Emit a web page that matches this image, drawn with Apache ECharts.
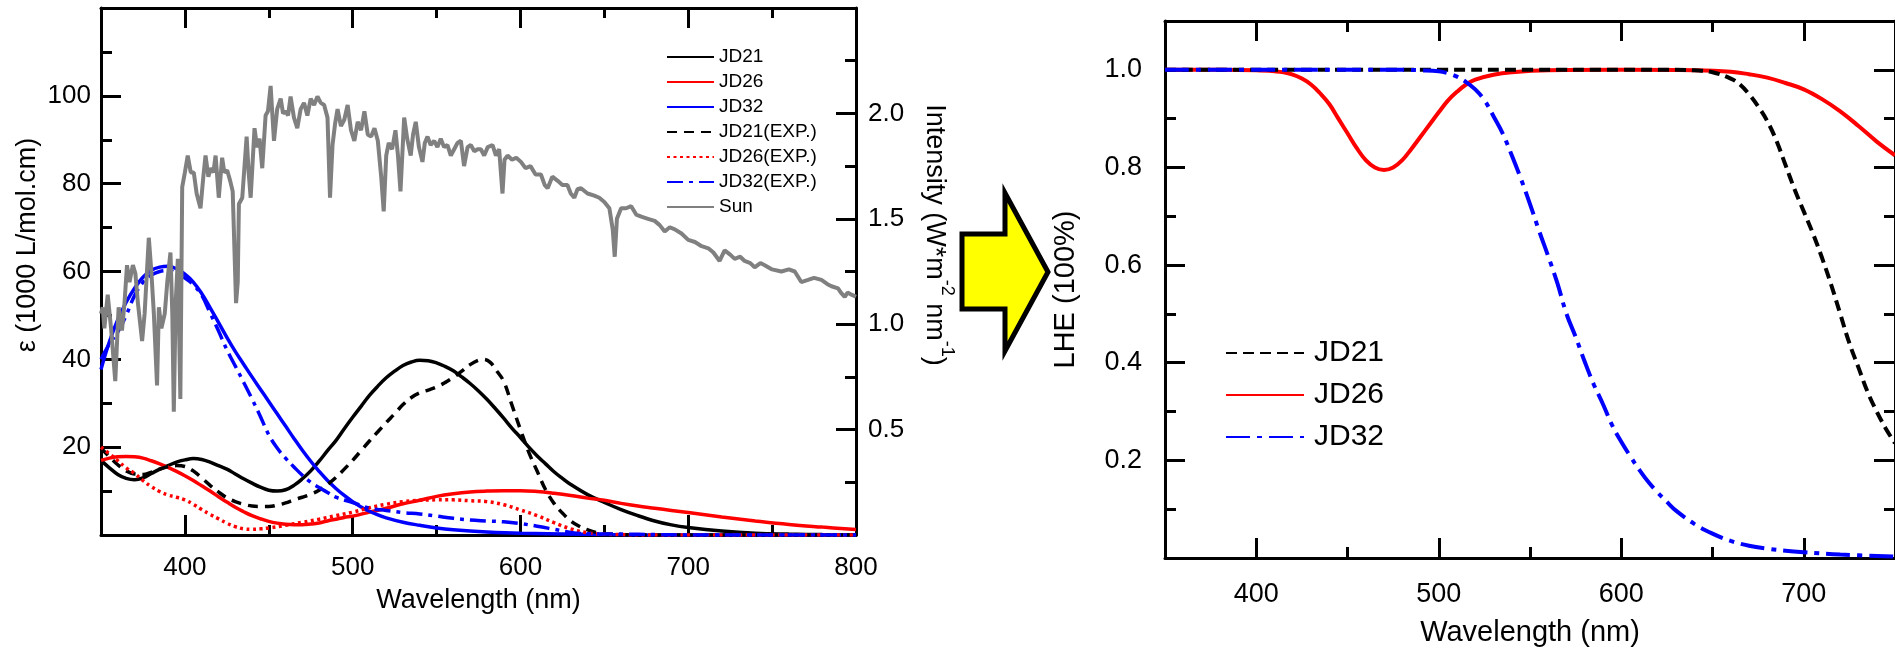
<!DOCTYPE html>
<html><head><meta charset="utf-8">
<script src="https://cdn.jsdelivr.net/npm/echarts@6/dist/echarts.min.js"></script>
<style>html,body{margin:0;padding:0;background:#fff}#c{width:1895px;height:652px}</style>
</head><body><div id="c"></div>
<script>
const FONT = '"Liberation Sans", Arial, sans-serif';

// ---------- tick values ----------
const leftXMajor = [400, 500, 600, 700, 800];
const leftXMinor = [450, 550, 650, 750];
const leftYMajor = [20, 40, 60, 80, 100];
const leftYMinor = [10, 30, 50, 70, 90, 110];
const intMajor = [0.5, 1.0, 1.5, 2.0];
const intMinor = [0.25, 0.75, 1.25, 1.75, 2.25];
const rightXMajor = [400, 500, 600, 700];
const rightXMinor = [450, 550, 650];
const lheMajor = [0.2, 0.4, 0.6, 0.8, 1.0];
const lheMinor = [0.1, 0.3, 0.5, 0.7, 0.9];

// ---------- left chart: absorption (1000 L/mol.cm) ----------
const jd21Wl = [350,355,360,365,370,375,380,385,390,395,400,405,410,415,420,425,430,435,440,445,450,455,460,465,470,475,480,485,490,495,500,505,510,515,520,525,530,535,540,545,550,555,560,565,570,575,580,585,590,595,600,605,610,615,620,625,630,640,650,660,670,680,690,700,720,740,760,780,800];
const jd21Eps = [17.0,15.3,13.8,12.9,12.6,13.0,14.0,15.0,15.8,16.6,17.1,17.4,17.2,16.6,15.8,15.0,13.9,12.8,11.8,10.9,10.2,10.0,10.3,11.3,12.8,14.6,16.8,19.2,21.5,24.2,26.8,29.3,31.8,33.9,35.8,37.3,38.6,39.4,39.8,39.7,39.2,38.4,37.4,36.0,34.5,32.8,30.9,28.8,26.6,24.3,22.2,20.0,18.0,16.2,14.4,12.9,11.5,9.2,7.4,5.8,4.4,3.2,2.3,1.7,0.9,0.4,0.2,0.1,0.05];

const jd26Wl = [350,355,360,365,370,375,380,385,390,395,400,405,410,415,420,425,430,435,440,445,450,455,460,465,470,475,480,485,490,495,500,510,520,530,540,550,560,570,580,590,600,610,620,630,640,650,660,670,680,690,700,720,740,760,780,800];
const jd26Eps = [17.0,17.5,17.8,17.9,17.8,17.5,16.9,16.2,15.4,14.5,13.5,12.4,11.2,10.0,8.7,7.5,6.3,5.3,4.4,3.7,3.1,2.7,2.45,2.35,2.35,2.5,2.75,3.2,3.6,4.0,4.3,5.2,6.1,7.1,7.9,8.8,9.4,9.8,10.0,10.1,10.1,9.9,9.5,9.0,8.4,7.9,7.2,6.6,6.1,5.6,5.1,4.1,3.2,2.4,1.8,1.25];

const jd32Wl = [350,355,360,365,370,375,380,385,390,395,400,405,410,415,420,425,430,435,440,445,450,455,460,465,470,475,480,485,490,495,500,505,510,515,520,530,540,550,560,580,600,650,700,800];
const jd32Eps = [37.7,44.0,49.0,53.0,56.2,58.7,60.3,61.0,61.2,60.6,59.4,57.6,55.0,51.8,48.4,45.0,41.8,38.9,36.0,33.2,30.4,27.6,24.8,22.0,19.3,16.8,14.5,12.4,10.6,9.0,7.6,6.4,5.4,4.6,3.9,2.9,2.2,1.6,1.2,0.7,0.4,0.1,0,0];

const jd21ExpWl = [350,355,360,365,370,375,380,385,390,395,400,405,410,415,420,425,430,435,440,445,450,455,460,465,470,475,480,485,490,495,500,505,510,515,520,525,530,535,540,545,550,555,560,565,570,575,578,582,586,590,595,600,605,610,615,620,625,630,635,640,645,650,660,680,800];
const jd21ExpEps = [19.8,17.8,16.0,14.6,13.9,13.8,14.3,15.0,15.6,15.8,15.6,14.6,13.0,11.3,9.8,8.5,7.6,7.0,6.6,6.5,6.5,6.8,7.3,8.0,8.6,9.3,10.2,11.5,13.1,15.0,17.0,19.2,21.4,23.5,25.6,27.6,29.7,31.3,32.4,33.0,33.7,34.7,35.9,37.3,38.8,39.8,40.0,39.3,37.3,35.0,29.5,24.0,18.8,14.5,10.3,7.2,5.0,3.2,2.0,1.2,0.6,0.3,0.1,0,0];

const jd26ExpWl = [350,355,360,365,370,375,380,385,390,395,400,405,410,415,420,425,430,435,440,445,450,460,470,480,490,500,510,520,530,540,550,560,570,580,590,600,610,620,630,640,650,660,680,800];
const jd26ExpEps = [20.0,18.5,16.9,15.3,14.0,12.4,11.0,9.9,9.1,8.6,8.0,7.0,5.8,4.7,3.7,2.7,1.9,1.4,1.3,1.4,1.6,2.2,2.9,3.6,4.4,5.2,6.2,7.0,7.6,7.9,8.0,8.0,7.8,7.6,6.9,5.7,4.4,2.8,1.4,0.5,0.2,0.1,0,0];

const jd32ExpWl = [350,355,360,365,370,375,380,385,390,395,400,405,410,415,420,425,430,435,440,445,450,455,460,465,470,475,480,485,490,500,510,520,530,540,550,560,570,580,590,600,610,620,630,640,660,680,700,800];
const jd32ExpEps = [40.0,43.5,46.2,50.0,54.5,57.5,59.2,60.0,60.2,59.6,58.5,57.0,54.6,50.6,46.5,42.2,38.5,34.8,31.0,27.0,22.8,19.8,17.5,15.5,13.6,12.0,10.8,9.7,8.6,7.4,6.1,5.6,5.1,4.8,4.3,3.8,3.4,3.2,3.0,2.6,2.0,1.3,0.6,0.3,0.2,0.1,0,0];

// ---------- Sun spectrum (W m^-2 nm^-1) ----------
const sunWl = [
 350,351,352,354,356,358.5,360.5,362.5,364,365.5,
 367,369,370.5,372,374.5,376,378.5,380,381.5,383.4,
 384.5,386,388,389.5,391.4,392.5,393.4,394.5,395.8,397.3,
 398.4,400,401.7,403.5,405.3,407,409.3,411,412.3,414,
 415.3,417,418.3,420.2,422.2,423.5,425.2,427,428.5,430.5,
 431.5,432.2,434.2,436.8,438,439.2,441.5,443,444.5,446.1,
 448.1,449.5,451.1,453.1,455,457.1,458.5,460,461.5,463,
 465,467,469,471,473,475,477,479,481,483,
 485,486.5,488,489.5,491,493,495,497,499,501,
 503,505,507,509,511,513,515,517,518.5,520,
 521.5,523.5,525.5,527,528.5,530.7,532.5,534.6,536,537.6,
 539.5,541.6,543,544.6,546.5,548.6,550.5,552.5,554.5,556.5,
 558.5,560.5,562.5,564.5,566.4,568.5,570.4,572.5,574.4,576.4,
 578.4,580.5,583.4,585.4,587.3,589.3,590.5,592.3,595,597.5,
 600.3,603,606,609,612.2,614.5,616.2,619,622.2,625,
 628,630,632.1,634,636.1,640,644,647,650,653,
 655,656.2,657.5,660,663,666,669,672,676,680,
 683,686,689,692,696,700,704,708,712,715,
 718.7,721.7,725,727.7,731,733.6,737,739.6,743,745.6,
 750,755.5,760,763.5,767.4,771.4,775,779.4,783,785.4,
 789.3,791,793.3,795,797.3,800];
const sunI = [
 1.05,1.08,0.98,1.14,0.98,0.73,1.08,0.97,1.10,1.28,
 1.20,1.28,1.24,1.10,0.92,1.05,1.41,1.25,1.05,0.71,
 1.08,0.98,1.05,1.20,1.34,1.05,0.585,1.10,1.31,0.645,
 1.65,1.72,1.80,1.72,1.72,1.62,1.55,1.70,1.80,1.70,
 1.74,1.72,1.80,1.60,1.79,1.72,1.73,1.68,1.63,1.10,
 1.20,1.57,1.60,1.89,1.72,1.60,1.93,1.84,1.88,1.74,
 1.99,2.01,2.13,1.87,2.02,2.07,2.00,2.01,1.99,2.08,
 1.98,1.93,2.02,2.05,1.99,2.07,2.04,2.08,2.05,2.04,
 1.98,1.60,1.85,1.95,2.02,1.94,1.97,2.04,1.92,1.87,
 1.96,1.92,2.01,1.90,1.89,1.93,1.87,1.70,1.535,1.80,
 1.86,1.83,1.92,1.80,1.63,1.98,1.88,1.80,1.90,1.96,
 1.84,1.77,1.86,1.89,1.85,1.87,1.84,1.88,1.84,1.85,
 1.80,1.83,1.86,1.87,1.75,1.84,1.85,1.82,1.83,1.83,
 1.80,1.84,1.85,1.80,1.83,1.62,1.78,1.80,1.78,1.79,
 1.77,1.74,1.75,1.71,1.71,1.66,1.645,1.70,1.68,1.66,
 1.66,1.62,1.60,1.64,1.645,1.62,1.61,1.60,1.58,1.55,
 1.45,1.32,1.50,1.55,1.55,1.56,1.52,1.51,1.50,1.49,
 1.47,1.44,1.46,1.45,1.43,1.40,1.39,1.37,1.36,1.34,
 1.30,1.35,1.33,1.31,1.32,1.30,1.29,1.27,1.29,1.28,
 1.26,1.25,1.26,1.25,1.20,1.21,1.22,1.21,1.19,1.18,
 1.17,1.15,1.13,1.15,1.14,1.13];

// ---------- right chart: LHE ----------
const lheWl21 = [350,400,450,500,550,600,630,640,650,660,665,670,675,680,685,690,695,700,705,710,715,720,725,730,735,740,745,750];
const lhe21 = [1,1,1,1,1,1,1,0.999,0.995,0.982,0.97,0.95,0.925,0.895,0.855,0.805,0.755,0.71,0.665,0.615,0.56,0.5,0.44,0.39,0.34,0.30,0.265,0.235];
const lheWl26 = [350,380,400,410,415,420,425,430,435,440,445,450,455,460,465,470,475,480,485,490,495,500,505,510,515,520,530,540,560,600,640,660,670,680,690,700,710,720,730,740,750];
const lhe26 = [1,1,0.999,0.997,0.995,0.99,0.982,0.97,0.952,0.93,0.9,0.87,0.84,0.815,0.8,0.795,0.8,0.815,0.838,0.863,0.888,0.913,0.937,0.955,0.97,0.98,0.99,0.995,0.999,1.0,0.999,0.996,0.991,0.984,0.973,0.96,0.94,0.915,0.885,0.853,0.825];
const lheWl32 = [350,400,450,480,490,500,505,510,515,520,525,530,535,540,545,550,555,560,565,570,575,580,585,590,595,600,605,610,615,620,625,630,640,650,660,670,680,690,700,720,750];
const lhe32 = [1,1,1,1,0.999,0.997,0.993,0.986,0.975,0.96,0.938,0.905,0.87,0.825,0.777,0.725,0.67,0.618,0.563,0.5,0.453,0.402,0.355,0.315,0.272,0.238,0.208,0.18,0.155,0.134,0.115,0.097,0.07,0.05,0.035,0.025,0.019,0.015,0.012,0.007,0.003];

// ---------- helpers ----------
const AX = {color: '#000', width: 3};
function mkAxis(o) {
  return {
    type: 'value', gridIndex: o.grid, position: o.pos, min: o.min, max: o.max,
    axisLine: {show: !!o.line, onZero: false, lineStyle: AX},
    axisTick: {show: true, inside: true, length: o.len, lineStyle: AX, customValues: o.ticks},
    axisLabel: o.labels ? {show: true, customValues: o.ticks, fontSize: o.fs, fontFamily: FONT, color: '#000', margin: o.margin, formatter: o.fmt} : {show: false},
    splitLine: {show: false}, minorTick: {show: false}, minorSplitLine: {show: false},
    name: o.name || '', nameLocation: 'middle', nameGap: o.nameGap || 0,
    nameTextStyle: {fontSize: o.nfs || 12, fontFamily: FONT, color: '#000'},
    silent: true
  };
}
const f1 = v => Number(v).toFixed(1);
function pairs(xs, ys) { return xs.map((x, i) => [x, ys[i]]); }
function line(name, xs, ys, color, width, type, xi, yi, smooth) {
  return {
    type: 'line', name: name, data: pairs(xs, ys), xAxisIndex: xi, yAxisIndex: yi,
    symbol: 'none', showSymbol: false, smooth: smooth, clip: true,
    lineStyle: {color: color, width: width, type: type, cap: 'butt'},
    itemStyle: {color: color}, emphasis: {disabled: true}, silent: true
  };
}

const chart = echarts.init(document.getElementById('c'), null, {renderer: 'canvas'});
chart.setOption({
  animation: false,
  backgroundColor: '#fff',
  grid: [
    {left: 101, top: 8, right: 1039, bottom: 117},
    {left: 1165, top: 21, right: -5, bottom: 92}
  ],
  xAxis: [
    mkAxis({grid: 0, pos: 'bottom', min: 350, max: 800, line: true, ticks: leftXMajor, len: 20, labels: true, fs: 26, margin: 20, name: 'Wavelength (nm)', nameGap: 52, nfs: 27}),
    mkAxis({grid: 0, pos: 'bottom', min: 350, max: 800, ticks: leftXMinor, len: 10}),
    mkAxis({grid: 0, pos: 'top', min: 350, max: 800, line: true, ticks: leftXMajor, len: 20}),
    mkAxis({grid: 0, pos: 'top', min: 350, max: 800, ticks: leftXMinor, len: 10}),
    mkAxis({grid: 1, pos: 'bottom', min: 350, max: 750, line: true, ticks: rightXMajor, len: 20, labels: true, fs: 27, margin: 23, name: 'Wavelength (nm)', nameGap: 60, nfs: 29}),
    mkAxis({grid: 1, pos: 'bottom', min: 350, max: 750, ticks: rightXMinor, len: 11}),
    mkAxis({grid: 1, pos: 'top', min: 350, max: 750, line: true, ticks: rightXMajor, len: 20}),
    mkAxis({grid: 1, pos: 'top', min: 350, max: 750, ticks: rightXMinor, len: 11})
  ],
  yAxis: [
    mkAxis({grid: 0, pos: 'left', min: 0, max: 120, line: true, ticks: leftYMajor, len: 20, labels: true, fs: 26, margin: 10}),
    mkAxis({grid: 0, pos: 'left', min: 0, max: 120, ticks: leftYMinor, len: 11}),
    mkAxis({grid: 0, pos: 'right', min: 0, max: 2.5, line: true, ticks: intMajor, len: 20, labels: true, fs: 26, margin: 12, fmt: f1}),
    mkAxis({grid: 0, pos: 'right', min: 0, max: 2.5, ticks: intMinor, len: 11}),
    mkAxis({grid: 1, pos: 'left', min: 0, max: 1.1, line: true, ticks: lheMajor, len: 20, labels: true, fs: 27, margin: 23, fmt: f1, name: 'LHE (100%)', nameGap: 85, nfs: 29}),
    mkAxis({grid: 1, pos: 'left', min: 0, max: 1.1, ticks: lheMinor, len: 11}),
    mkAxis({grid: 1, pos: 'right', min: 0, max: 1.1, line: true, ticks: lheMajor, len: 21}),
    mkAxis({grid: 1, pos: 'right', min: 0, max: 1.1, ticks: lheMinor, len: 11})
  ],
  legend: [
    {
      orient: 'vertical', left: 666, top: 47, padding: 0, itemWidth: 47, itemHeight: 14, itemGap: 5,
      selectedMode: false,
      data: ['JD21', 'JD26', 'JD32', 'JD21(EXP.)', 'JD26(EXP.)', 'JD32(EXP.)', 'Sun'],
      itemStyle: {opacity: 0, borderWidth: 0},
      textStyle: {fontSize: 19, lineHeight: 20, fontFamily: FONT, color: '#000'}
    },
    {
      orient: 'vertical', left: 1225, top: 336, padding: 0, itemWidth: 78, itemHeight: 14, itemGap: 8,
      selectedMode: false,
      data: ['LHE-JD21', 'LHE-JD26', 'LHE-JD32'],
      formatter: n => n.replace('LHE-', ''),
      itemStyle: {opacity: 0, borderWidth: 0},
      textStyle: {fontSize: 30, lineHeight: 34, fontFamily: FONT, color: '#000', padding: [0, 0, 0, 5]}
    }
  ],
  series: [
    line('JD21', jd21Wl, jd21Eps, '#000000', 3.5, 'solid', 0, 0, 0.4),
    line('JD26', jd26Wl, jd26Eps, '#ff0000', 3.5, 'solid', 0, 0, 0.4),
    line('JD32', jd32Wl, jd32Eps, '#0000ff', 3.5, 'solid', 0, 0, 0.4),
    line('JD21(EXP.)', jd21ExpWl, jd21ExpEps, '#000000', 3.5, [10, 7], 0, 0, 0.4),
    line('JD26(EXP.)', jd26ExpWl, jd26ExpEps, '#ff0000', 3.5, [3, 3.5], 0, 0, 0.4),
    line('JD32(EXP.)', jd32ExpWl, jd32ExpEps, '#0000ff', 3.5, [16, 6, 4, 6], 0, 0, 0.4),
    line('Sun', sunWl, sunI, '#808080', 4, 'solid', 0, 2, false),
    line('LHE-JD26', lheWl26, lhe26, '#ff0000', 4, 'solid', 4, 4, 0.4),
    line('LHE-JD21', lheWl21, lhe21, '#000000', 4, [11, 6], 4, 4, 0.4),
    line('LHE-JD32', lheWl32, lhe32, '#0000ff', 4, [24, 7, 5, 7], 4, 4, 0.4)
  ],
  graphic: [
    {
      type: 'polygon', z: 100, silent: true,
      shape: {points: [[962, 234], [1005, 234], [1005, 193], [1048, 272], [1005, 351], [1005, 309], [962, 309]]},
      style: {fill: '#ffff00', stroke: '#000', lineWidth: 5, lineJoin: 'miter'}
    },
    {
      type: 'text', x: 28, y: 245, rotation: Math.PI / 2, silent: true,
      style: {text: 'ε (1000 L/mol.cm)', fontSize: 27, fontFamily: FONT, fill: '#000', align: 'center', verticalAlign: 'middle'}
    },
    {
      type: 'text', x: 934, y: 235, rotation: -Math.PI / 2, silent: true,
      style: {
        text: '{m|Intensity (W*m}{s|-2}{m| nm}{s|-1}{m|)}',
        align: 'center', verticalAlign: 'middle', fill: '#000',
        rich: {
          m: {fontSize: 27, fontFamily: FONT, lineHeight: 44, fill: '#000'},
          s: {fontSize: 18, fontFamily: FONT, lineHeight: 18, verticalAlign: 'top', fill: '#000'}
        }
      }
    }
  ]
});
</script>
</body></html>
